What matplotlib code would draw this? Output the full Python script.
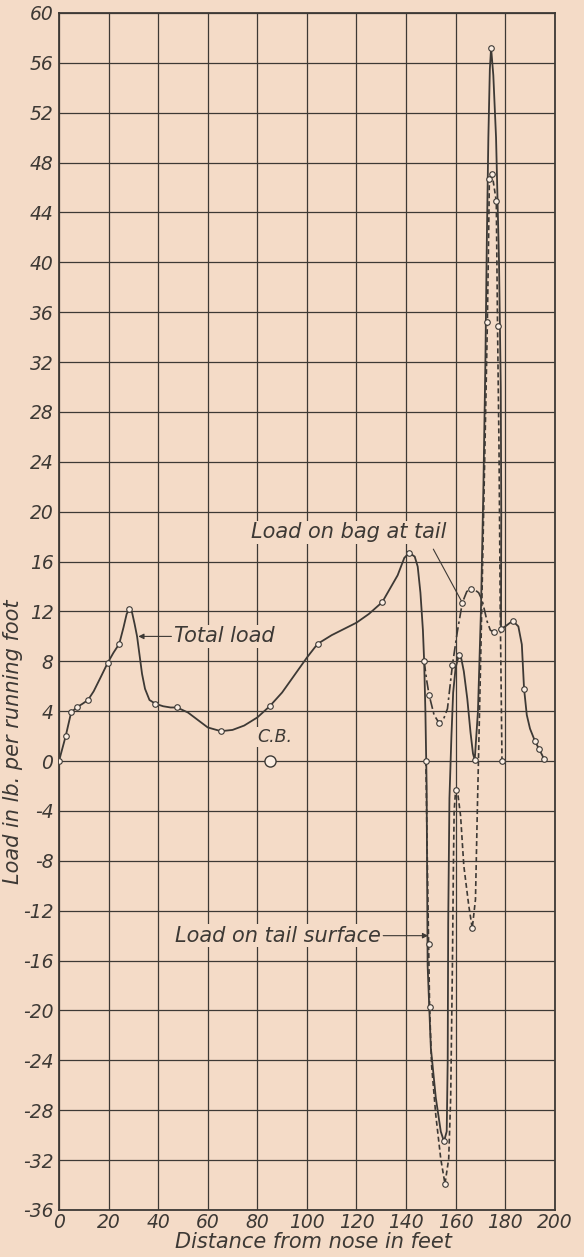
import matplotlib.pyplot as plt

# Total load along the hull, lb. per running foot
total_x = [0, 2.7, 4.9, 7.1, 9.5, 11.7, 14, 17, 19.7, 22, 24.3, 26, 27.3, 28.4,
           29.5, 30.5, 31.5, 32.5, 33.5, 34.7, 36.5, 38.9, 42, 45, 47.6, 52, 56,
           60, 65.3, 70, 74.7, 80, 85, 90, 95, 100, 104.3, 110, 115, 120, 125,
           130.4, 134, 136.6, 139.3, 141.3, 143.5, 144.7, 145.8, 146.8, 147.3,
           147.8, 148.3, 148.7, 150, 152, 154, 155.3, 156.4, 156.8, 157, 157.5,
           158.3, 159, 160, 161.3, 162.3, 163.3, 164.7, 166, 167, 167.7, 169,
           170.2, 171.2, 172, 172.6, 173.2, 173.8, 174.3, 175.2, 176.3, 177.5,
           178.2, 178.4, 178.3, 180, 182, 183.3, 185.3, 186.7, 187.6, 188.7,
           190, 192, 193.7, 195.6]
total_y = [0, 2.0, 3.9, 4.3, 4.6, 4.9, 5.6, 6.8, 7.9, 8.7, 9.4, 10.7, 11.8, 12.2,
           11.9, 11.0, 10.0, 8.5, 7.0, 5.8, 4.9, 4.6, 4.4, 4.3, 4.3, 3.9, 3.3,
           2.7, 2.4, 2.5, 2.85, 3.5, 4.4, 5.5, 6.9, 8.3, 9.4, 10.1, 10.6, 11.1,
           11.8, 12.75, 14.0, 14.9, 16.3, 16.7, 16.4, 15.6, 13.5, 10.5, 8.0,
           4.0, -2.0, -16.4, -23.0, -27.0, -29.7, -30.5, -29.7, -24.0, -13.0,
           -3.0, 2.0, 5.5, 7.5, 8.5, 8.2, 7.2, 5.0, 2.3, 0.6, 0.1, 4.0, 12.0,
           22.0, 32.0, 42.0, 50.0, 55.5, 57.2, 55.0, 50.0, 40.0, 30.0, 20.0,
           10.6, 10.8, 11.1, 11.2, 10.8, 9.35, 5.8, 3.7, 2.6, 1.6, 0.95, 0.2]
total_pts_x = [0, 2.7, 4.9, 7.1, 11.7, 19.7, 24.3, 28.4, 38.9, 47.6, 65.3, 85,
               104.3, 130.4, 141.3, 147.3, 155.3, 161.3, 167.7, 174.3, 183.3,
               187.6, 192, 193.7, 195.6]
total_pts_y = [0, 2.0, 3.9, 4.3, 4.9, 7.9, 9.4, 12.2, 4.6, 4.3, 2.4, 4.4, 9.4,
               12.75, 16.7, 8.0, -30.5, 8.5, 0.1, 57.2, 11.2, 5.8, 1.6, 0.95, 0.2]

# Load carried by the bag at the tail
bag_x = [147.3, 148.3, 149.3, 151.3, 153.3, 155, 156.7, 158.7, 160.7, 162.7,
         164.5, 166, 167.3, 169.3, 170.7, 172.7, 174, 175.3, 178.3]
bag_y = [8.0, 6.5, 5.3, 3.7, 3.06, 3.3, 4.2, 7.7, 10.4, 12.7, 13.6, 13.8, 13.8,
         13.5, 12.9, 11.2, 10.5, 10.35, 10.6]
bag_pts_x = [149.3, 153.3, 158.7, 162.7, 166, 175.3, 178.3]
bag_pts_y = [5.3, 3.06, 7.7, 12.7, 13.8, 10.35, 10.6]

# Load on the tail surface
tail_x = [148, 148.5, 149.1, 149.5, 150.3, 152, 154, 155.7, 157.2, 158, 158.7,
          159.1, 159.4, 160, 161, 162, 163.3, 165.3, 166.7, 168, 168.7, 169.2,
          170.3, 171.3, 172.3, 172.8, 173.3, 173.6, 174.7, 176.4, 176.9, 177.5,
          178, 178.7]
tail_y = [0, -7.0, -14.7, -19.7, -24.4, -28.4, -31.9, -33.9, -31.9, -27.0,
          -16.4, -8.4, -4.0, -2.3, -2.8, -4.4, -8.4, -11.6, -13.4, -11.1, -4.4,
          0, 10.0, 20.0, 30.0, 35.2, 42.0, 46.7, 47.1, 44.9, 34.9, 25.0, 12.0, 0]
tail_pts_x = [148, 149.1, 149.5, 155.7, 160, 166.7, 172.8, 173.6, 174.7, 176.4,
              176.9, 178.7]
tail_pts_y = [0, -14.7, -19.7, -33.9, -2.3, -13.4, 35.2, 46.7, 47.1, 44.9,
              34.9, 0]

cb_x = 85
x_ticks = [0, 20, 40, 60, 80, 100, 120, 140, 160, 180, 200]
y_ticks = list(range(-36, 61, 4))

paper = '#f4dbc7'
ink = '#3d3935'
dot_fill = '#fbeee3'

plt.rcParams['font.family'] = ['DejaVu Sans']
plt.rcParams['font.style'] = 'italic'
plt.rcParams['axes.unicode_minus'] = False

fig = plt.figure(figsize=(5.84, 12.57), dpi=100, facecolor=paper)
ax = fig.add_axes([0.101, 0.0374, 0.849, 0.9523])
ax.set_facecolor(paper)
ax.set_xlim(0, 200)
ax.set_ylim(-36, 60)
ax.set_xticks(x_ticks)
ax.set_xticklabels([str(v) for v in x_ticks])
ax.set_yticks(y_ticks)
ax.set_yticklabels([str(v) for v in y_ticks])
ax.grid(True, color=ink, lw=0.9, zorder=0)
ax.set_axisbelow(True)
ax.tick_params(length=0, labelsize=13.5, labelcolor=ink)
ax.tick_params(axis='x', pad=2)
ax.tick_params(axis='y', pad=4)
for s in ax.spines.values():
    s.set_color(ink)
    s.set_linewidth(1.3)

ax.plot(total_x, total_y, color=ink, lw=1.3, zorder=4)
ax.plot(bag_x, bag_y, color=ink, lw=1.2, ls=(0, (6, 2, 1.5, 2)), zorder=3)
ax.plot(tail_x, tail_y, color=ink, lw=1.2, ls=(0, (3, 1.8)), zorder=3)
mk = dict(ls='none', marker='o', ms=4, mfc=dot_fill, mec=ink, mew=0.8, zorder=5)
ax.plot(total_pts_x, total_pts_y, **mk)
ax.plot(bag_pts_x, bag_pts_y, **mk)
ax.plot(tail_pts_x, tail_pts_y, **mk)

# centre of buoyancy
ax.plot([cb_x], [0], ls='none', marker='o', ms=8, mfc=dot_fill, mec=ink,
        mew=1.0, zorder=5)
ax.text(cb_x + 2, 1.2, 'C.B.', ha='center', va='bottom', fontsize=12.5,
        color=ink, bbox=dict(fc=paper, ec='none', pad=0.5), zorder=3)

txt = dict(fontsize=15, color=ink, va='center', ha='left',
           bbox=dict(fc=paper, ec='none', pad=1.0))
ax.annotate('Total load', xy=(32, 10), xytext=(46.5, 10), zorder=3,
            arrowprops=dict(arrowstyle='-|>', color=ink, lw=0.8,
                            mutation_scale=8, shrinkA=1, shrinkB=0), **txt)
ax.text(77.3, 18.35, 'Load on bag at tail', zorder=3, **txt)
ax.annotate('', xy=(162.7, 12.7), xytext=(151, 17.0), zorder=3,
            arrowprops=dict(arrowstyle='-', color=ink, lw=0.8,
                            shrinkA=0, shrinkB=0))
ax.annotate('Load on tail surface', xy=(148.9, -14), xytext=(46.6, -14),
            zorder=3,
            arrowprops=dict(arrowstyle='-|>', color=ink, lw=0.8,
                            mutation_scale=8, shrinkA=1, shrinkB=0), **txt)

ax.set_ylabel('Load in lb. per running foot', fontsize=15, color=ink)
ax.yaxis.set_label_coords(-0.072, 0.391)
ax.set_xlabel('Distance from nose in feet', fontsize=15, color=ink)
ax.xaxis.set_label_coords(0.514, -0.0185)

fig.savefig('out.png', dpi=100, facecolor=paper)
